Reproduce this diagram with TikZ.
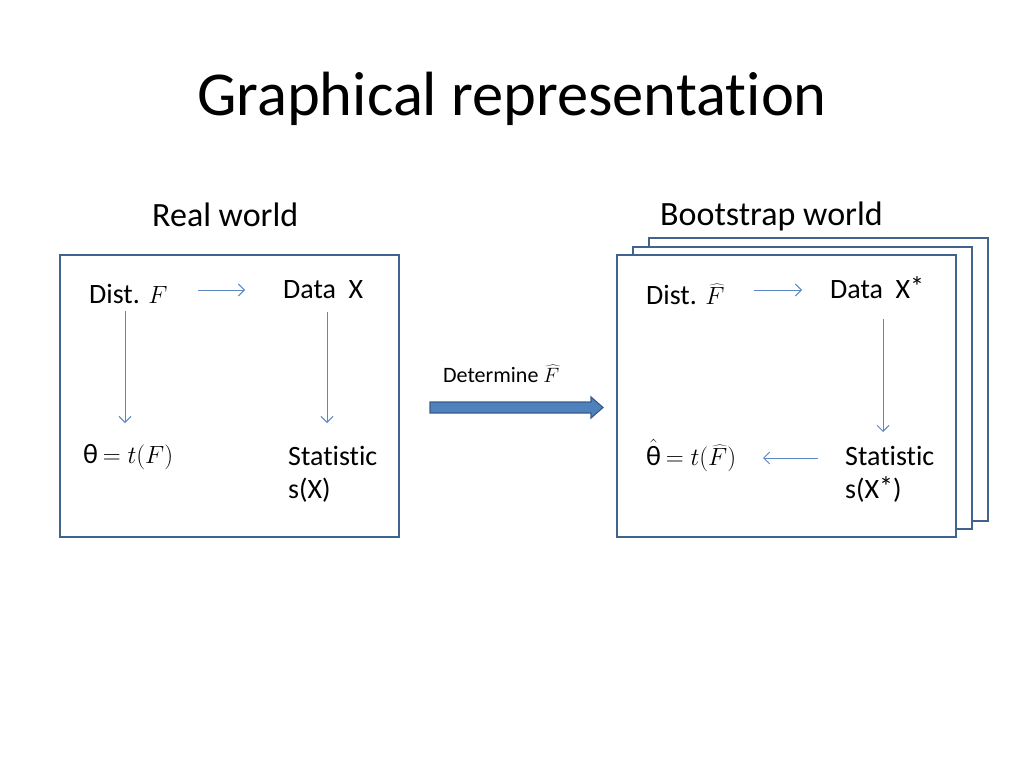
\documentclass[tikz,border=0pt]{standalone}
\usepackage{fontspec}
\setmainfont[Ligatures=NoCommon]{Carlito}
\usetikzlibrary{arrows.meta}
\definecolor{boxline}{HTML}{41648E}
\definecolor{thinarrow}{HTML}{5B87C3}
\definecolor{bigfill}{HTML}{4F81BD}
\definecolor{bigline}{HTML}{385D8A}
\newcommand{\raisedstar}{\raisebox{2pt}{*}}
\tikzset{
  frame/.style={draw=boxline, line width=2.4pt, fill=white},
  lbl/.style={anchor=base west, inner sep=0pt, font=\fontsize{28}{34}\selectfont},
  flow/.style={draw=thinarrow, line width=0.9pt, -{Straight Barb[length=6pt,width=12pt]}},
  bigarrow/.style={fill=bigfill, draw=bigline, line width=1.2pt}
}
\begin{document}
\begin{tikzpicture}[x=1pt,y=-1pt]
\useasboundingbox (0,0) rectangle (1024,768);
% title & headings
\node[anchor=base west, inner sep=0pt, font=\fontsize{62.5}{70}\selectfont] (title) at (197,115) {Graphical representation};
\node[anchor=base west, inner sep=0pt, font=\fontsize{34}{40}\selectfont] (real) at (152,226) {Real world};
\node[anchor=base west, inner sep=0pt, font=\fontsize{34}{40}\selectfont] (boot) at (660,225) {Bootstrap world};
% left box
\draw[frame] (60,255) rectangle (399,537);
\node[lbl] (distF) at (89,303) {Dist. $F$};
\node[lbl] (dataX) at (283,298) {Data\ \ X};
\node[lbl] (theta) at (83,463) {θ\,$=t(F)$};
\node[lbl] (statX) at (288,465) {Statistic};
\node[lbl] (sX) at (288,498) {s(X)};
\coordinate (a1s) at (198,290); \coordinate (a1e) at (245,290);
\coordinate (a2s) at (125,311); \coordinate (a2e) at (125,423);
\coordinate (a3s) at (327,312); \coordinate (a3e) at (327,423);
\draw[flow] (a1s) -- (a1e);
\draw[flow] (a2s) -- (a2e);
\draw[flow] (a3s) -- (a3e);
% right stack
\draw[frame] (649,238) rectangle (988,521);
\draw[frame] (633,247) rectangle (972,529);
\draw[frame] (617,255) rectangle (956,537);
\node[lbl] (distFh) at (646,304) {Dist. $\widehat{F}$};
\node[lbl] (dataXs) at (830,298) {Data\ \ X\raisedstar};
\node[lbl] (thetah) at (646,465) {$\hat{\mbox{θ}}$\,$=t\bigl(\widehat{F}\bigr)$};
\node[lbl] (statXs) at (845,465) {Statistic};
\node[lbl] (sXs) at (845,498) {s(X\raisedstar)};
\coordinate (b1s) at (754,290); \coordinate (b1e) at (802,290);
\coordinate (b2s) at (883,319); \coordinate (b2e) at (883,432);
\coordinate (b3s) at (818,458); \coordinate (b3e) at (763,458);
\draw[flow] (b1s) -- (b1e);
\draw[flow] (b2s) -- (b2e);
\draw[flow] (b3s) -- (b3e);
% determine arrow
\node[anchor=base west, inner sep=0pt, font=\fontsize{22}{26}\selectfont] (det) at (443,382) {Determine $\widehat{F}$};
\draw[bigarrow] (430,402) -- (591,402) -- (591,397) -- (603,407.5) -- (591,418) -- (591,413) -- (430,413) -- cycle;
\end{tikzpicture}
\end{document}
